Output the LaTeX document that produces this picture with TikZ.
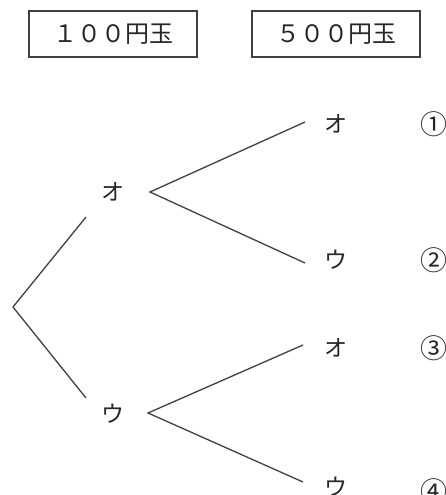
\documentclass[tikz,border=0pt]{standalone}
\usepackage{fontspec}
\setmainfont{Noto Sans CJK JP}
\usetikzlibrary{positioning}

\begin{document}
\begin{tikzpicture}[x=1pt, y=-1pt]
		\tikzset{
			coin/.style={rectangle, draw=black!75, line width=1.3pt, minimum width=168pt,
			minimum height=46pt, font=\fontsize{24}{24}\selectfont, text=black!85},
			face/.style={font=\fontsize{23}{23}\selectfont, text=black!85, inner sep=0pt},
			case/.style={font=\fontsize{27}{27}\selectfont, text=black!85, inner sep=0pt},
			branch/.style={draw=black!75, line width=1.3pt}
		}
		\useasboundingbox (0,0) rectangle (446,495);
		\node[coin](yen100) at (113,34){１００円玉};
		\node[coin](yen500) at (336,34){５００円玉};

		\node[face](o) at (113,192){オ};
		\node[face](u) at (113,414){ウ};
		\node[face](oo) at (336,124){オ};
		\node[face](ou) at (336,260){ウ};
		\node[face](uo) at (336,348){オ};
		\node[face](uu) at (336,487){ウ};
		\node[case](case1) at (434,124){①};
		\node[case](case2) at (434,260){②};
		\node[case](case3) at (434,348){③};
		\node[case](case4) at (434,491){④};

		\coordinate(root) at (13,307);
		\coordinate(toO) at (86,217);
		\coordinate(toU) at (86,398);
		\coordinate(fromO) at (150,192);
		\coordinate(fromU) at (148,413);
		\coordinate(toOO) at (305,122);
		\coordinate(toOU) at (305,263);
		\coordinate(toUO) at (303,345);
		\coordinate(toUU) at (303,482);

		\draw[branch](toO) -- (root) -- (toU);
		\draw[branch](toOO) -- (fromO) -- (toOU);
		\draw[branch](toUO) -- (fromU) -- (toUU);
	\end{tikzpicture}
\end{document}
